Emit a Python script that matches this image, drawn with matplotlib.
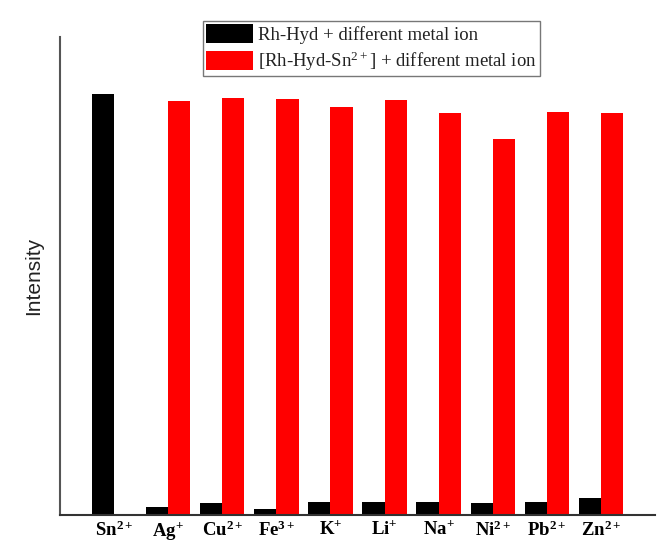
import matplotlib.pyplot as plt
import numpy as np

plt.rcParams['mathtext.fontset'] = 'custom'
plt.rcParams['mathtext.rm'] = 'Liberation Serif'
plt.rcParams['mathtext.it'] = 'Liberation Serif:italic'
plt.rcParams['mathtext.bf'] = 'Liberation Serif:bold'

ions = [r'Sn$^{\mathbf{2+}}$', r'Ag$^{\mathbf{+}}$', r'Cu$^{\mathbf{2+}}$', r'Fe$^{\mathbf{3+}}$',
        r'K$^{\mathbf{+}}$', r'Li$^{\mathbf{+}}$', r'Na$^{\mathbf{+}}$', r'Ni$^{\mathbf{2+}}$',
        r'Pb$^{\mathbf{2+}}$', r'Zn$^{\mathbf{2+}}$']
probe_only = [421, 7.5, 12, 6, 13, 13, 13, 12, 13, 17]
probe_sn = [0, 414, 417, 416, 408, 415, 402, 376, 403, 402]

x = np.arange(len(ions))
w = 0.41

fig = plt.figure(figsize=(6.59, 5.43), dpi=100)
ax = fig.add_axes([0.091, 0.052, 0.903, 0.880])

ax.bar(x - w / 2, probe_only, w, color='black', label='Rh-Hyd + different metal ion')
ax.bar(x + w / 2, probe_sn, w, color='#ff0000', label=r'[Rh-Hyd-Sn$^{2+}$] + different metal ion')

ax.set_xlim(-1, 10)
ax.set_ylim(0, 478)
ax.set_xticks(x)
ax.set_xticklabels(ions, fontfamily='Liberation Serif', fontweight='bold', fontsize=13.5)
ax.set_yticks([])
ax.tick_params(axis='x', length=0, pad=4)

for s in ['top', 'right']:
    ax.spines[s].set_visible(False)
ax.spines['left'].set_color('#555555')
ax.spines['bottom'].set_color('#333333')
ax.spines['left'].set_linewidth(1.5)
ax.spines['bottom'].set_linewidth(1.5)

ax.set_ylabel('Intensity', fontfamily='Liberation Sans', fontsize=15, color='#222222', labelpad=12)

leg = ax.legend(loc='upper center', bbox_to_anchor=(0.523, 1.033), fancybox=False,
                prop={'family': 'Liberation Serif', 'size': 13.5},
                handlelength=2.5, handleheight=1.2, handletextpad=0.3,
                borderpad=0.15, labelspacing=0.3, borderaxespad=0)
leg.get_frame().set_edgecolor('#555555')
leg.get_frame().set_linewidth(1.0)
for t in leg.get_texts():
    t.set_color('#222222')

fig.savefig('out.png', dpi=100)
